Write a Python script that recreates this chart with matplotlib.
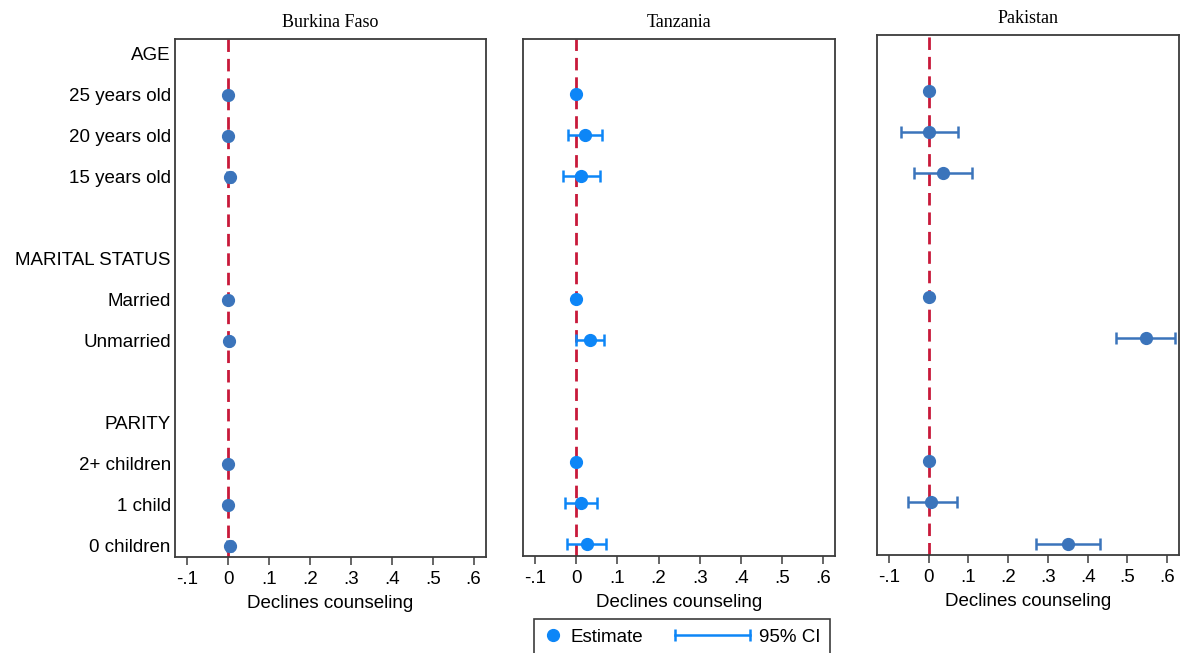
import numpy as np
import matplotlib.pyplot as plt
from matplotlib.lines import Line2D
from matplotlib.legend_handler import HandlerLine2D

plt.rcParams['font.family'] = ['Liberation Sans', 'DejaVu Sans']

# row labels, top to bottom (blank rows separate the groups)
rows = ["AGE", "25 years old", "20 years old", "15 years old", "",
        "MARITAL STATUS", "Married", "Unmarried", "",
        "PARITY", "2+ children", "1 child", "0 children"]

countries = ["Burkina Faso", "Tanzania", "Pakistan"]
nan = np.nan

# point estimates (nan = header / blank rows)
bf_est = [nan, 0.0, 0.0, 0.004, nan, nan, 0.0, 0.002, nan, nan, 0.0, 0.0, 0.004]
bf_lo = [nan, 0.0, 0.0, -0.002, nan, nan, 0.0, 0.0, nan, nan, 0.0, 0.0, -0.002]
bf_hi = [nan, 0.0, 0.0, 0.010, nan, nan, 0.0, 0.004, nan, nan, 0.0, 0.0, 0.010]

tz_est = [nan, 0.0, 0.022, 0.012, nan, nan, 0.0, 0.032, nan, nan, 0.0, 0.012, 0.027]
tz_lo = [nan, 0.0, -0.020, -0.032, nan, nan, 0.0, -0.002, nan, nan, 0.0, -0.027, -0.022]
tz_hi = [nan, 0.0, 0.063, 0.058, nan, nan, 0.0, 0.066, nan, nan, 0.0, 0.051, 0.073]

pk_est = [nan, 0.0, 0.0, 0.037, nan, nan, 0.0, 0.548, nan, nan, 0.0, 0.006, 0.350]
pk_lo = [nan, 0.0, -0.070, -0.037, nan, nan, 0.0, 0.472, nan, nan, 0.0, -0.053, 0.270]
pk_hi = [nan, 0.0, 0.073, 0.110, nan, nan, 0.0, 0.620, nan, nan, 0.0, 0.070, 0.430]

xticks = [-0.1, 0, 0.1, 0.2, 0.3, 0.4, 0.5, 0.6]
xticklabels = ["-.1", "0", ".1", ".2", ".3", ".4", ".5", ".6"]

colors = ["#3b74bb", "#0d86f7", "#3b74bb"]
red = "#c8193a"
frame = "#3c3c3c"

data = [(bf_est, bf_lo, bf_hi), (tz_est, tz_lo, tz_hi), (pk_est, pk_lo, pk_hi)]

fig = plt.figure(figsize=(11.82, 6.53), dpi=100)
positions = [[0.148, 0.147, 0.263, 0.793],
             [0.4425, 0.149, 0.264, 0.791],
             [0.742, 0.150, 0.2555, 0.796]]

fs = 13.5
y = np.arange(len(rows))
for i, (name, (est, lo, hi)) in enumerate(zip(countries, data)):
    ax = fig.add_axes(positions[i])
    est = np.array(est)
    lo = np.array(lo)
    hi = np.array(hi)
    ax.axvline(0, color=red, lw=2.0, ls=(0, (4.5, 2.5)), zorder=1)
    err = np.vstack([est - lo, hi - est])
    ax.errorbar(est, y, xerr=err, fmt='o', color=colors[i], ms=8.5,
                elinewidth=1.8, capsize=4.5, capthick=1.8, zorder=3)
    ax.set_xlim(-0.13, 0.63)
    ax.set_ylim(12.28, -0.35)
    ax.set_xticks(xticks)
    ax.set_xticklabels(xticklabels, fontsize=fs)
    ax.tick_params(axis='x', length=6, width=1.1, color=frame, pad=4)
    ax.set_yticks(y)
    if i == 0:
        ax.set_yticklabels(rows, fontsize=fs)
    else:
        ax.set_yticklabels([])
    ax.tick_params(axis='y', length=0, pad=3)
    ax.set_xlabel("Declines counseling", fontsize=fs, labelpad=5)
    ax.set_title(name, fontsize=13, family=['Liberation Serif', 'DejaVu Serif'], pad=9)
    for s in ax.spines.values():
        s.set_color(frame)
        s.set_linewidth(1.3)


class HandlerCI(HandlerLine2D):
    # horizontal CI bar drawn leftwards into the column gap
    def create_artists(self, legend, orig_handle, xdescent, ydescent,
                       width, height, fontsize, trans):
        ymid = (height - ydescent) / 2
        x0 = width - 4.0 * fontsize
        line = Line2D([x0, width], [ymid, ymid], color=orig_handle.get_color(),
                      lw=orig_handle.get_linewidth())
        caps = Line2D([x0, width], [ymid, ymid], ls='none', marker='|',
                      ms=9, mew=1.8, color=orig_handle.get_color())
        line.set_transform(trans)
        caps.set_transform(trans)
        return [line, caps]


h_est = Line2D([], [], ls='none', marker='o', ms=8.5, color=colors[1])
h_ci = Line2D([], [], lw=1.8, color=colors[1])
leg = fig.legend([h_est, h_ci], ["Estimate", "95% CI"], loc='upper left',
                 bbox_to_anchor=(0.452, 0.052), ncol=2, fontsize=fs,
                 handlelength=1.0, handletextpad=0.45, columnspacing=4.7,
                 fancybox=False, edgecolor=frame, framealpha=1, borderpad=0.5,
                 borderaxespad=0,
                 handler_map={h_ci: HandlerCI(), h_est: HandlerLine2D(numpoints=1)})
leg.get_frame().set_linewidth(1.2)

fig.savefig("out.png", dpi=100)
